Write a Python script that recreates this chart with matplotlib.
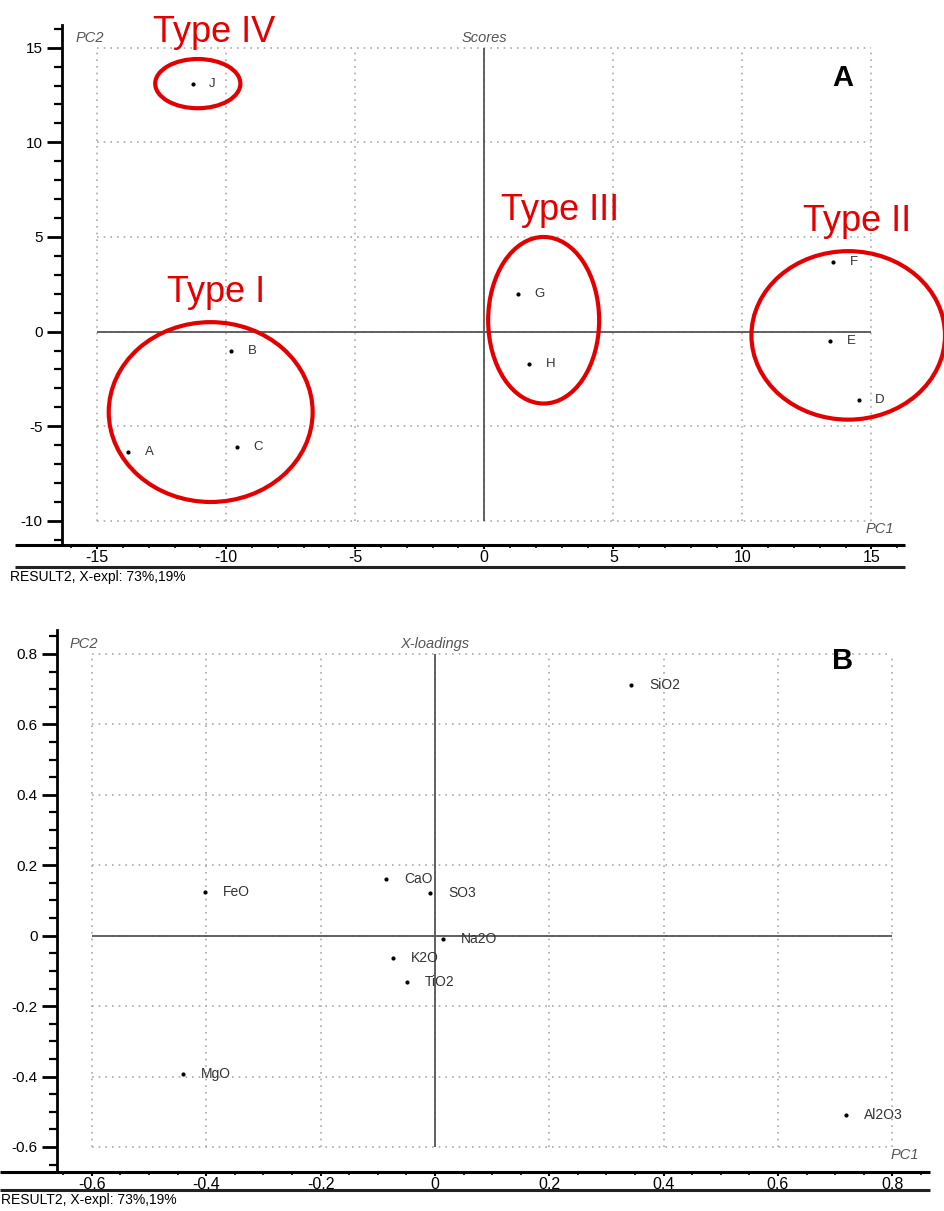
import matplotlib
matplotlib.use("Agg")
import matplotlib.pyplot as plt
from matplotlib.patches import Ellipse

plt.rcParams['font.family'] = ['Liberation Sans', 'DejaVu Sans']
plt.rcParams['axes.unicode_minus'] = False

# scores (panel A)
score_labels = ['A', 'B', 'C', 'D', 'E', 'F', 'G', 'H', 'J']
score_pc1 = [-13.8, -9.8, -9.6, 14.5, 13.4, 13.5, 1.3, 1.75, -11.3]
score_pc2 = [-6.35, -1.0, -6.1, -3.6, -0.5, 3.7, 2.0, -1.7, 13.1]

# groups drawn round the scores
group_names = ['Type I', 'Type II', 'Type III', 'Type IV']
group_cx = [-10.6, 14.1, 2.3, -11.1]
group_cy = [-4.25, -0.2, 0.6, 13.1]
group_w = [7.9, 7.5, 4.3, 3.3]
group_h = [9.5, 8.9, 8.8, 2.6]
group_tx = [-10.4, 14.45, 2.95, -10.45]
group_ty = [2.05, 5.8, 6.4, 15.8]

# x-loadings (panel B)
load_labels = ['SiO2', 'FeO', 'CaO', 'SO3', 'Na2O', 'K2O', 'TiO2', 'MgO', 'Al2O3']
load_pc1 = [0.343, -0.402, -0.086, -0.009, 0.014, -0.073, -0.049, -0.441, 0.719]
load_pc2 = [0.713, 0.125, 0.162, 0.122, -0.009, -0.063, -0.131, -0.392, -0.509]

a_xticks = [-15, -10, -5, 0, 5, 10, 15]
a_yticks = [-10, -5, 0, 5, 10, 15]
b_xticks = [-0.6, -0.4, -0.2, 0, 0.2, 0.4, 0.6, 0.8]
b_xticklabels = ['-0.6', '-0.4', '-0.2', '0', '0.2', '0.4', '0.6', '0.8']
b_yticks = [-0.6, -0.4, -0.2, 0, 0.2, 0.4, 0.6, 0.8]
b_yticklabels = ['-0.6', '-0.4', '-0.2', '0', '0.2', '0.4', '0.6', '0.8']

caption = 'RESULT2, X-expl: 73%,19%'
narrow = ['Liberation Sans Narrow', 'Liberation Sans']

fig = plt.figure(figsize=(9.44, 12.11), dpi=100)
axA = fig.add_axes([0.0657, 0.5500, 0.893, 0.4294])
axB = fig.add_axes([0.0604, 0.0322, 0.9248, 0.4476])


def style_panel(ax, xt, yt, xlim, ylim, xminor, yminor, title, letter, letter_pos,
                xline_left, second_y, cap_x):
    ax.set_xlim(xlim)
    ax.set_ylim(ylim)
    for s in ['top', 'right', 'bottom']:
        ax.spines[s].set_visible(False)
    ax.spines['left'].set_linewidth(2)
    ax.set_xticks(xt)
    ax.set_yticks(yt)
    ax.set_xticks(xminor, minor=True)
    ax.set_yticks(yminor, minor=True)
    ax.tick_params(axis='y', which='major', length=11, width=2, labelsize=11, pad=3)
    ax.tick_params(axis='y', which='minor', length=6, width=1.6)
    ax.tick_params(axis='x', which='major', length=3, width=1.5, labelsize=11.5, pad=0.5)
    ax.tick_params(axis='x', which='minor', length=2, width=1.2)
    for t in ax.get_xticklabels():
        t.set_family(narrow)
    # dotted grid inside the tick range only
    ax.hlines(yt, xt[0], xt[-1], colors='#aaaaaa', linestyles=(0, (1, 3)), lw=1.2, zorder=0)
    ax.vlines(xt, yt[0], yt[-1], colors='#aaaaaa', linestyles=(0, (1, 3)), lw=1.2, zorder=0)
    ax.hlines(0, xt[0], xt[-1], colors='#555555', lw=1.3, zorder=1)
    ax.vlines(0, yt[0], yt[-1], colors='#555555', lw=1.3, zorder=1)
    # bottom axis line and the frame line under the tick labels
    ax.plot([xline_left, 1.0], [0, 0], transform=ax.transAxes, color='black',
            lw=2.2, clip_on=False, solid_capstyle='butt')
    ax.plot([xline_left, 1.0], [second_y, second_y], transform=ax.transAxes,
            color='#222222', lw=2.2, clip_on=False, solid_capstyle='butt')
    ax.text(cap_x, second_y - 0.006, caption, transform=ax.transAxes,
            fontsize=10, ha='left', va='top', family=narrow)
    gray = '#555555'
    ax.text(xt[0] - (xlim[1] - xlim[0]) * 0.026, yt[-1] + (ylim[1] - ylim[0]) * 0.006,
            'PC2', style='italic', color=gray, fontsize=10.5, ha='left', va='bottom')
    ax.text(0, yt[-1] + (ylim[1] - ylim[0]) * 0.006, title, style='italic', color=gray,
            fontsize=10.5, ha='center', va='bottom')
    ax.text(0.987, 0.018, 'PC1', transform=ax.transAxes, style='italic', color=gray,
            fontsize=10.5, ha='right', va='bottom')
    ax.text(letter_pos[0], letter_pos[1], letter, transform=ax.transAxes,
            fontsize=21, fontweight='bold', ha='center', va='center')


style_panel(axA, a_xticks, a_yticks, (-16.36, 16.3), (-11.27, 16.2),
            [v for v in range(-16, 17) if v % 5], [v for v in range(-11, 17) if v % 5],
            'Scores', 'A', (0.926, 0.898), -0.0558, -0.0423, -0.062)

bminor = [round(-0.65 + 0.05 * i, 2) for i in range(31)]
axB.set_xticks(b_xticks)
axB.set_xticklabels(b_xticklabels)
axB.set_yticks(b_yticks)
axB.set_yticklabels(b_yticklabels)
style_panel(axB, b_xticks, b_yticks, (-0.661, 0.866), (-0.671, 0.868),
            [v for v in bminor if -0.66 <= v <= 0.86], [v for v in bminor if -0.67 <= v <= 0.86],
            'X-loadings', 'B', (0.900, 0.943), -0.0653, -0.0332, -0.064)
axB.set_xticklabels(b_xticklabels, family=narrow)
axB.set_yticklabels(b_yticklabels)

# panel A points
axA.plot(score_pc1, score_pc2, 'o', color='black', ms=2, zorder=3)
for lab, x, y in zip(score_labels, score_pc1, score_pc2):
    axA.annotate(lab, (x, y), xytext=(12, 0), textcoords='offset points',
                 fontsize=9.5, color='#333333', ha='left', va='center')

for name, cx, cy, w, h, tx, ty in zip(group_names, group_cx, group_cy, group_w, group_h,
                                      group_tx, group_ty):
    axA.add_patch(Ellipse((cx, cy), w, h, fill=False, edgecolor='#e40000', lw=3,
                          clip_on=False, zorder=4))
    axA.text(tx, ty, name, color='#e40000', fontsize=26, ha='center', va='center')

# panel B points
axB.plot(load_pc1, load_pc2, 'o', color='black', ms=2, zorder=3)
for lab, x, y in zip(load_labels, load_pc1, load_pc2):
    axB.annotate(lab, (x, y), xytext=(13, 0), textcoords='offset points',
                 fontsize=10, color='#333333', ha='left', va='center')

fig.savefig('out.png', dpi=100)
